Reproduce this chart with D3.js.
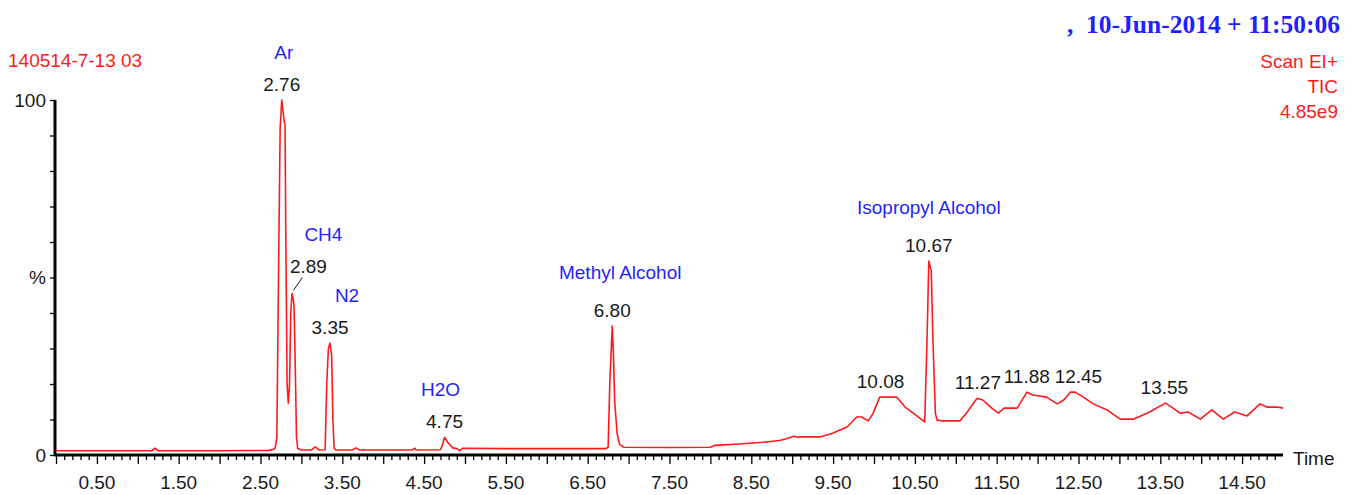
<!DOCTYPE html>
<html>
<head>
<meta charset="utf-8">
<script src="https://cdn.jsdelivr.net/npm/d3@7"></script>
<style>
  html, body { margin: 0; padding: 0; background: #fff; }
  svg { display: block; font-family: "Liberation Sans", Arial, sans-serif; }
</style>
</head>
<body>
<svg id="chart"></svg>
<script>
// retention time (min) and relative intensity (%)
const times = [
  0.00, 0.50, 1.00, 1.17, 1.21, 1.25, 2.00, 2.60, 2.66, 2.68,
  2.70, 2.72, 2.74, 2.76, 2.775, 2.79, 2.80, 2.81, 2.825, 2.84,
  2.855, 2.87, 2.885, 2.90, 2.91, 2.925, 2.94, 2.955, 3.00, 3.12,
  3.17, 3.22, 3.29, 3.31, 3.33, 3.35, 3.37, 3.385, 3.40, 3.42,
  3.62, 3.67, 3.71, 4.35, 4.39, 4.40, 4.70, 4.72, 4.75, 4.79,
  4.85, 4.90, 4.94, 4.97, 5.50, 6.00, 6.72, 6.75, 6.77, 6.80,
  6.815, 6.83, 6.86, 6.89, 6.94, 7.50, 8.00, 8.05, 8.35, 8.65,
  8.84, 8.92, 9.02, 9.07, 9.10, 9.34, 9.50, 9.67, 9.79, 9.85,
  9.93, 9.99, 10.07, 10.16, 10.28, 10.38, 10.48, 10.62, 10.65, 10.67,
  10.70, 10.72, 10.75, 10.77, 10.84, 11.05, 11.13, 11.26, 11.33, 11.44,
  11.52, 11.59, 11.75, 11.87, 11.94, 12.11, 12.24, 12.32, 12.40, 12.46,
  12.56, 12.68, 12.85, 13.01, 13.17, 13.37, 13.56, 13.64, 13.74, 13.84,
  13.99, 14.13, 14.27, 14.41, 14.56, 14.72, 14.80, 14.93, 15.00
];
const intensity = [
  1.2, 1.2, 1.2, 1.2, 1.9, 1.2, 1.2, 1.3, 1.6, 2.0,
  5, 50, 92, 100, 97, 94, 93, 60, 20, 14.6,
  20, 40, 45.5, 44, 42, 25, 5, 1.8, 1.4, 1.4,
  2.3, 1.4, 1.5, 20, 30, 31.5, 28, 10, 2, 1.4,
  1.4, 2.0, 1.4, 1.4, 1.9, 1.4, 1.5, 2.5, 5.0, 3.5,
  2.0, 1.8, 1.2, 1.9, 1.8, 1.8, 1.8, 2.2, 20, 36.3,
  28, 15, 6, 3, 2.2, 2.1, 2.2, 2.7, 3.1, 3.6,
  4.1, 4.5, 5.3, 5.0, 5.1, 5.1, 6.2, 7.9, 10.7, 10.7,
  9.6, 11.8, 16.3, 16.3, 16.3, 13.5, 11.8, 9.3, 34, 54.6,
  52, 33, 11.8, 9.9, 9.6, 9.6, 11.8, 16, 15.5, 13.2,
  11.8, 13.2, 13.2, 17.7, 16.9, 16.3, 14.4, 15.5, 17.7, 17.7,
  16.3, 14.4, 12.7, 10.1, 10.1, 12.1, 14.6, 13.5, 11.8, 12.1,
  10.1, 12.7, 10.1, 12.1, 11, 14.4, 13.5, 13.5, 13.2
];

// peak labels
const peakTimes = [2.76, 2.89, 3.35, 4.75, 6.80, 10.08, 10.67, 11.27, 11.88, 12.45, 13.55];
const compoundNames = ["Ar", "CH4", "N2", "H2O", "Methyl Alcohol", "Isopropyl Alcohol"];
const compoundTimes = [2.76, 2.89, 3.35, 4.75, 6.80, 10.67];

const xTickLabels = [0.5, 1.5, 2.5, 3.5, 4.5, 5.5, 6.5, 7.5, 8.5, 9.5, 10.5, 11.5, 12.5, 13.5, 14.5];
const yTickLabels = { 0: "0", 50: "%", 100: "100" };

const sampleName = "140514-7-13 03";
const runStamp = ",  10-Jun-2014 + 11:50:06";
const scanInfo = ["Scan EI+", "TIC", "4.85e9"];

const width = 1352, height = 495;
const margin = { top: 100, right: 69, bottom: 40, left: 56 };
const red = "#ff1a1a", blue = "#1f1fff", ink = "#1a1a1a";

const svg = d3.select("#chart")
  .attr("width", width)
  .attr("height", height)
  .attr("viewBox", `0 0 ${width} ${height}`);

const x = d3.scaleLinear()
  .domain([0, 15])
  .range([margin.left, width - margin.right]);

const y = d3.scaleLinear()
  .domain([0, 100])
  .range([height - margin.bottom, margin.top]);

// header texts
svg.append("text")
  .attr("x", 8).attr("y", 60).attr("dy", "0.35em")
  .attr("font-size", 19).attr("fill", red)
  .text(sampleName);

svg.append("text")
  .attr("x", 1340).attr("y", 24).attr("dy", "0.35em")
  .attr("text-anchor", "end")
  .attr("font-family", "'Liberation Serif', 'Times New Roman', serif")
  .attr("font-weight", "bold")
  .attr("font-size", 25.5).attr("fill", blue)
  .attr("xml:space", "preserve")
  .text(runStamp);

svg.append("g")
  .attr("font-size", 19).attr("fill", red).attr("text-anchor", "end")
  .selectAll("text")
  .data(scanInfo)
  .join("text")
    .attr("x", 1338)
    .attr("y", (d, i) => 61 + i * 25)
    .attr("dy", "0.35em")
    .text(d => d);

// axes
const xMinor = d3.range(0, 150).map(i => i / 10);
const xAxis = g => g
  .attr("transform", `translate(0,${y(0)})`)
  .call(d3.axisBottom(x)
    .tickValues(xMinor)
    .tickSize(5)
    .tickFormat(""))
  .call(g => g.selectAll(".tick line")
    .attr("stroke", "#000")
    .attr("stroke-width", 1.3)
    .attr("y2", d => (Math.round(d * 10) % 5 === 0 ? 9 : 5)))
  .call(g => g.select(".domain")
    .attr("stroke", "#000")
    .attr("stroke-width", 3)
    .attr("d", `M${x(0) - 1.5},0H${x(15)}`));

svg.append("g").call(xAxis);

svg.append("g")
  .attr("font-size", 19).attr("fill", ink).attr("text-anchor", "middle")
  .selectAll("text")
  .data(xTickLabels)
  .join("text")
    .attr("x", d => x(d))
    .attr("y", y(0) + 27)
    .attr("dy", "0.35em")
    .text(d => d.toFixed(2));

svg.append("text")
  .attr("x", x(15) + 10).attr("y", y(0) + 3).attr("dy", "0.35em")
  .attr("font-size", 19).attr("fill", ink)
  .text("Time");

const yAxis = g => g
  .attr("transform", `translate(${x(0) - 1},0)`)
  .call(d3.axisLeft(y)
    .tickValues(d3.range(0, 101, 10))
    .tickSize(5)
    .tickFormat(d => yTickLabels[d] || ""))
  .call(g => g.select(".domain")
    .attr("stroke", "#000")
    .attr("stroke-width", 3)
    .attr("d", `M0,${y(100)}V${y(0)}`))
  .call(g => g.selectAll(".tick line").attr("stroke", "#000").attr("stroke-width", 1.3))
  .call(g => g.selectAll(".tick text")
    .attr("x", -9)
    .attr("font-size", 19)
    .attr("font-family", "'Liberation Sans', Arial, sans-serif")
    .attr("fill", ink));

svg.append("g").call(yAxis);

// trace
const line = d3.line()
  .x(d => x(d[0]))
  .y(d => y(d[1]));

svg.append("path")
  .datum(d3.zip(times, intensity))
  .attr("fill", "none")
  .attr("stroke", red)
  .attr("stroke-width", 1.6)
  .attr("stroke-linejoin", "round")
  .attr("d", line);

// peak labels: placed above the highest point near each retention time
const peakHeight = t => d3.max(times.map((tt, i) => Math.abs(tt - t) < 0.04 ? intensity[i] : -1));

// a few labels are nudged sideways, CH4 sits off to the right with a leader
const shifted = { 2.89: [16, -27], 11.88: [-1, -16], 12.45: [4, -16] };
const nameShift = { "Ar": 2, "CH4": 15, "N2": 17, "H2O": -4, "Methyl Alcohol": 8, "Isopropyl Alcohol": 0 };

const labelPos = t => {
  const s = shifted[t] || [0, -16];
  return [x(t) + s[0], y(peakHeight(t)) + s[1]];
};

svg.append("g")
  .attr("font-size", 19).attr("fill", ink).attr("text-anchor", "middle")
  .selectAll("text")
  .data(peakTimes)
  .join("text")
    .attr("x", d => labelPos(d)[0])
    .attr("y", d => labelPos(d)[1])
    .attr("dy", "0.35em")
    .text(d => d.toFixed(2));

svg.append("line")
  .attr("x1", x(2.89) + 1).attr("y1", y(peakHeight(2.89)) - 3)
  .attr("x2", x(2.89) + 10).attr("y2", y(peakHeight(2.89)) - 16)
  .attr("stroke", ink).attr("stroke-width", 1);

svg.append("g")
  .attr("font-size", 19).attr("fill", blue).attr("text-anchor", "middle")
  .selectAll("text")
  .data(compoundNames)
  .join("text")
    .attr("x", (d, i) => labelPos(compoundTimes[i])[0] + nameShift[d])
    .attr("y", (d, i) => labelPos(compoundTimes[i])[1] - (i > 3 ? 38 : 32))
    .attr("dy", "0.35em")
    .text(d => d);
</script>
</body>
</html>
